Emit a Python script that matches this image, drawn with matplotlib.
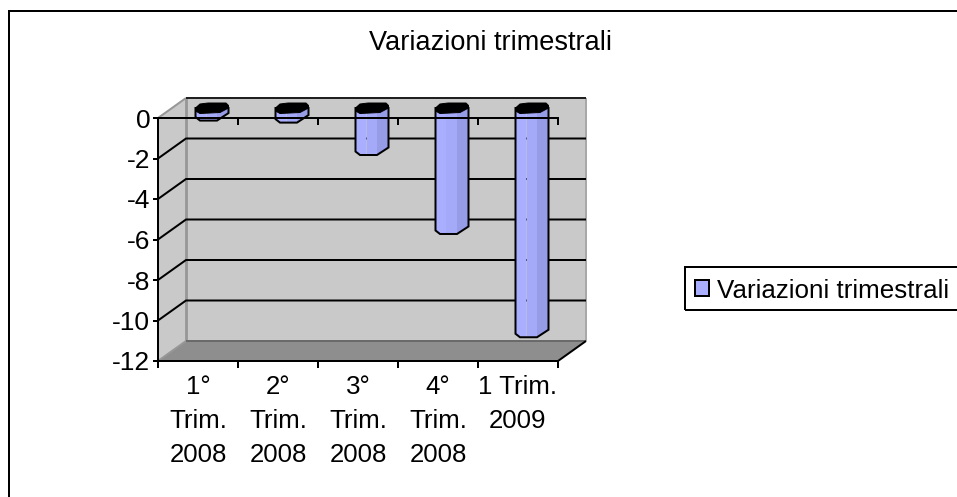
import numpy as np
import matplotlib
matplotlib.use("Agg")
import matplotlib.pyplot as plt
from matplotlib.patches import Polygon, Rectangle, Patch
from matplotlib.transforms import IdentityTransform

categories = ["1°\nTrim.\n2008", "2°\nTrim.\n2008", "3°\nTrim.\n2008",
              "4°\nTrim.\n2008", "1 Trim.\n2009"]
values = [-0.3, -0.4, -2, -5.9, -11]
y_ticks = [0, -2, -4, -6, -8, -10, -12]
y_labels = ["0", "-2", "-4", "-6", "-8", "-10", "-12"]
title = "Variazioni trimestrali"
series_name = "Variazioni trimestrali"

W, H = 957, 497
DX, DY = 28, 20  # depth of the fake 3d box, pixels
WALL = "#c9c9c9"
FLOOR = "#8e8e8e"
EDGE = "#979797"
LW = 1.44  # 2 px

plt.rcParams["font.family"] = ["Liberation Sans", "DejaVu Sans"]

fig = plt.figure(figsize=(W / 100, H / 100), dpi=100)
ax = fig.add_axes([158 / W, (H - 361) / H, 400 / W, 243 / H])
ax.set_xlim(0, len(values))
ax.set_ylim(-12, 0)
ax.patch.set_visible(False)


def proj(x, v, depth=0.0):
    px, py = ax.transData.transform((x, v))
    return px + DX * depth, py + DY * depth


def poly(points, **kw):
    p = Polygon(points, closed=True, transform=IdentityTransform(), clip_on=False, **kw)
    ax.add_patch(p)
    return p


def line(points, color, lw=LW, z=1.5):
    xs, ys = zip(*points)
    ax.plot(xs, ys, color=color, lw=lw, transform=IdentityTransform(),
            clip_on=False, solid_capstyle="butt", zorder=z)


n = len(values)

# walls and floor
poly([proj(0, 0, 1), proj(n, 0, 1), proj(n, -12, 1), proj(0, -12, 1)], fc=WALL, ec="none", zorder=1)
poly([proj(0, 0), proj(0, 0, 1), proj(0, -12, 1), proj(0, -12)], fc=WALL, ec="none", zorder=1)
poly([proj(0, -12), proj(n, -12), proj(n, -12, 1), proj(0, -12, 1)], fc=FLOOR, ec="none", zorder=1)

line([proj(0, 0), proj(0, 0, 1)], EDGE)
line([proj(0, 0, 1), proj(0, -12, 1)], EDGE, lw=2.0)
line([proj(0, -12), proj(0, -12, 1)], EDGE)
line([proj(n, 0, 1), proj(n, -12, 1)], "#a8a8a8")
line([proj(0, -12, 1), proj(n, -12, 1)], "#6a6a6a")
line([proj(0, 0, 1), proj(n, 0, 1)], "#202020")
line([proj(n, -12), proj(n, -12, 1)], "black")

# gridlines
for t in y_ticks[1:-1]:
    line([proj(0, t), proj(0, t, 1), proj(n, t, 1)], "black")

# bars, faceted like the low-res cylinders
cap = np.array([(-16.5, 0), (-12, -4), (-4, -5), (14, -5), (16.5, -2.5), (16.5, 0),
                (8, 4.5), (-12, 5.5), (-16.5, 3)])
foot_x = [-16.5, -12, 5, 16.5]
foot_y = [-3, -6.5, -6.5, 1]  # y up
facets = [(-16.5, -5.5, "#a9aeff"), (-5.5, 5, "#a5aaf8"), (5, 16.5, "#979ce6")]

for i, v in enumerate(values):
    cx, top = proj(i + 0.5, 0, 0.5)
    _, bottom = proj(i + 0.5, v, 0.5)
    for a, b, col in facets:
        xs = [x for x in foot_x if a < x < b]
        seg = [a] + xs + [b]
        low = [(cx + x, bottom + np.interp(x, foot_x, foot_y)) for x in seg]
        poly([(cx + a, top), (cx + b, top)] + low[::-1], fc=col, ec="none", zorder=2)
    outline = [(cx - 16.5, top)] + [(cx + x, bottom + y) for x, y in zip(foot_x, foot_y)] + [(cx + 16.5, top)]
    poly(outline, fc="none", ec="black", lw=LW, zorder=2.1)
    poly([(cx + x, top - y) for x, y in cap], fc="black", ec="black", lw=0.7, zorder=2.2)

# axes
for side in ["left", "bottom", "top"]:
    ax.spines[side].set_linewidth(LW)
ax.spines["right"].set_visible(False)

ax.set_yticks(y_ticks)
ax.set_yticklabels(y_labels, fontsize=19)
ax.tick_params(axis="y", length=3.6, width=LW, pad=2, colors="black")
ax.set_xticks(np.arange(n + 1))
ax.set_xticklabels([])
ax.tick_params(axis="x", which="major", length=5, width=LW)
ax.set_xticks(np.arange(n) + 0.5, minor=True)
ax.set_xticklabels(categories, minor=True, fontsize=18.6, linespacing=1.54)
ax.tick_params(axis="x", which="minor", length=0, pad=10)

# ticks hanging off the zero line
for x in np.arange(1, n + 1):
    ax.plot([x, x], [0, -0.33], color="black", lw=LW, clip_on=False, zorder=3, solid_capstyle="butt")

fig.suptitle(title, x=490.5 / W, y=(H - 50) / H, fontsize=19.5, va="baseline", ha="center")

# chart border and legend run off the right and bottom edges
fig.add_artist(Rectangle((8.5 / W, -20 / H), 1000 / W, (H - 11 + 20) / H, transform=fig.transFigure,
                         fc="none", ec="black", lw=LW))
fig.add_artist(Rectangle((685 / W, (H - 310) / H), 300 / W, 43 / H, transform=fig.transFigure,
                         fc="none", ec="black", lw=LW))
handle = Patch(fc="#a9aeff", ec="black", lw=LW, label=series_name)
fig.legend(handles=[handle], loc="center left", bbox_to_anchor=(695 / W, (H - 290.5) / H),
           frameon=False, fontsize=18.7, handlelength=0.55, handleheight=0.55,
           handletextpad=0.3, borderpad=0, borderaxespad=0)

fig.savefig("out.png", dpi=100)
